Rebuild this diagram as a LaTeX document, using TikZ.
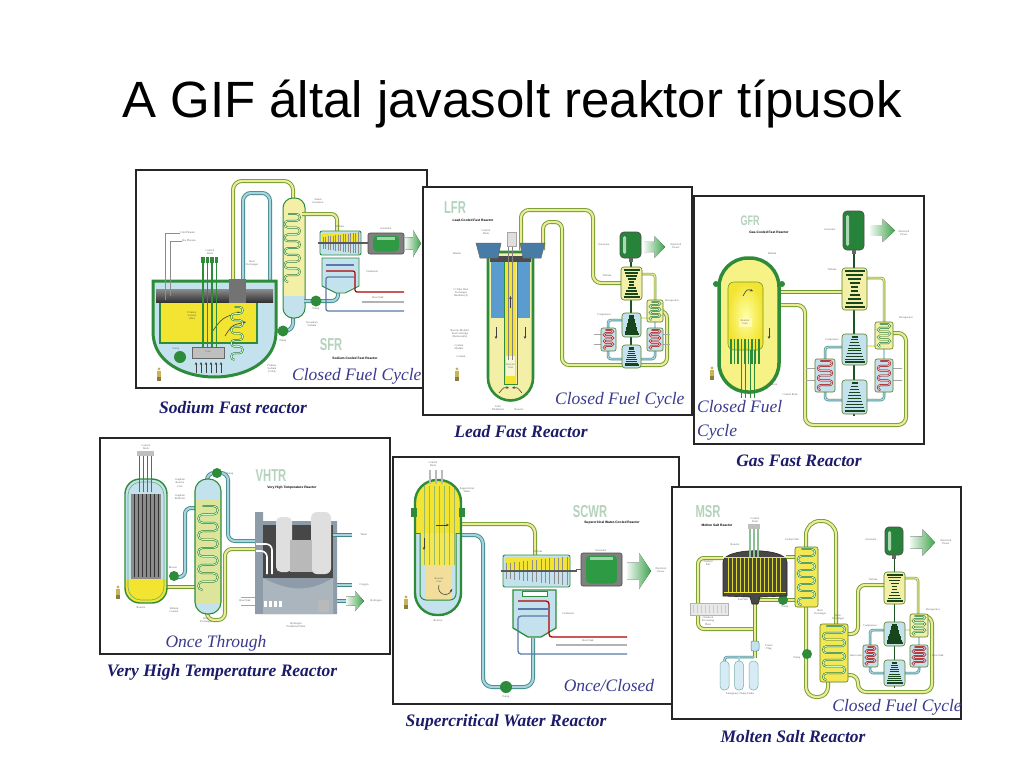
\documentclass[tikz,border=0pt]{standalone}
\usepackage{fontspec}
\setmainfont{Liberation Serif}
\newfontfamily\titlefont{Liberation Sans}
\usetikzlibrary{calc,arrows.meta}
\definecolor{dkg}{HTML}{2E8B3A}
\definecolor{olive}{HTML}{6E9A2A}
\definecolor{pyel}{HTML}{EDEB9A}
\definecolor{yel}{HTML}{F2E431}
\definecolor{pale}{HTML}{F4EFA6}
\definecolor{lblue}{HTML}{C4E2EE}
\definecolor{teal}{HTML}{3F8A86}
\definecolor{tblue}{HTML}{A9D3E0}
\definecolor{capc}{HTML}{1C1C6B}
\definecolor{cycc}{HTML}{3A3A8E}
\definecolor{logoc}{HTML}{B4D3BC}
\definecolor{gen}{HTML}{2F9A44}
\definecolor{arrowg}{HTML}{3FA34D}
\definecolor{pinkc}{HTML}{D4707A}
\definecolor{skin}{HTML}{C9B35A}
\definecolor{hdrb}{HTML}{5A9BD0}
\definecolor{steelb}{HTML}{5A78A8}
\definecolor{plantg}{HTML}{8D9CA8}
\definecolor{ihxg}{HTML}{DDE59A}
\definecolor{beige}{HTML}{F2DE9A}
\tikzset{
 panel/.style={draw=black!85, line width=1.1pt, fill=white},
 ypipe/.style={draw=olive, double=pyel, double distance=2.2pt, line width=0.9pt, rounded corners=6pt},
 bpipe/.style={draw=teal, double=tblue, double distance=2.2pt, line width=0.9pt, rounded corners=6pt},
 typipe/.style={draw=olive, double=pyel, double distance=1.3pt, line width=0.6pt, rounded corners=3pt},
 tbpipe/.style={draw=teal, double=tblue, double distance=1.3pt, line width=0.6pt, rounded corners=3pt},
 coilg/.style={draw=dkg!80!black, double=lblue!50!green!35, double distance=0.9pt, line width=0.5pt},
 coilr/.style={draw=red!60!black, double=pinkc!50, double distance=0.9pt, line width=0.5pt},
 caption/.style={font=\fontsize{17.5}{18}\selectfont\bfseries\itshape, text=capc, inner sep=0pt},
 cyclab/.style={font=\fontsize{17.5}{18}\selectfont\itshape, text=cycc, inner sep=0pt},
 lbl/.style={font=\fontsize{2.8}{3.1}\selectfont, text=black!60, inner sep=0pt, align=center},
 logo/.style={font=\titlefont\bfseries\fontsize{15}{15}\selectfont, text=logoc, inner sep=0pt},
 logosub/.style={font=\titlefont\bfseries\fontsize{3.3}{3.5}\selectfont, text=black, inner sep=0pt},
 flow/.style={-{Stealth[length=3pt,width=2.6pt]}, line width=.6pt, black!75},
}
\newcommand\serp[6]{\draw[#6] (#1,#2) \foreach \i in {1,...,#4}{ -- ++(#3,0) arc[start angle=-90,end angle=90,radius=#5] -- ++(-#3,0) arc[start angle=270,end angle=90,radius=#5]};}
\newcommand\person[2]{\fill[skin] (#1,#2-12) circle[radius=1.6];
 \fill[skin] (#1-2,#2-10) rectangle (#1+2,#2-4);
 \fill[skin!70!black] (#1-1.8,#2-4) rectangle (#1-0.4,#2);
 \fill[skin!70!black] (#1+0.4,#2-4) rectangle (#1+1.8,#2);}
\newcommand\pumpc[3]{\fill[dkg] (#1,#2) circle[radius=#3];}
\newcommand\genH[4]{\filldraw[fill=black!50, draw=black!70, line width=.6pt, rounded corners=2pt] (#1,#2) rectangle (#3,#4);
 \fill[gen, rounded corners=4pt] (#1+5,#2+2.5) rectangle (#3-5,#4-2.5);
 \fill[gen!45!white] (#1+9,#2+4) rectangle (#3-9,#2+6.5);
 \draw[black!60, line width=1.2pt] (#1-5,{(#2+#4)/2}) -- (#1,{(#2+#4)/2});}
\newcommand\genV[4]{\filldraw[fill=gen!85!black, draw=black!70, line width=.7pt, rounded corners=4pt] (#1,#2) rectangle (#3,#4);
 \fill[gen!40!white, rounded corners=1.5pt] (#1+3,#2+4) rectangle (#1+6,#4-4);
 \fill[black!60] ({(#1+#3)/2-2},#4) rectangle ({(#1+#3)/2+2},#4+4);}
\newcommand\garrow[4]{\pgfmathsetmacro\gxa{#1+0.5*(#3-#1)}\pgfmathsetmacro\gym{0.5*(#2+#4)}\pgfmathsetmacro\gyq{#2+0.27*(#4-#2)}\pgfmathsetmacro\gyr{#4-0.27*(#4-#2)}
 \fill[left color=arrowg!8, right color=arrowg] (#1,\gyq) -- (\gxa,\gyq) -- (\gxa,#2) -- (#3,\gym) -- (\gxa,#4) -- (\gxa,\gyr) -- (#1,\gyr) -- cycle;}
\newcommand\turbo[6]{\filldraw[fill=#5, draw=olive!80!black, line width=.6pt, rounded corners=3pt] (#1,#2) rectangle (#3,#4);
 \pgfmathsetmacro\tcx{0.5*(#1+#3)}\pgfmathsetmacro\thw{0.5*(#3-#1)-2.5}
 \foreach \k in {0,...,9}{\pgfmathsetmacro\ty{#2+3+\k*(#4-#2-6)/9}
  \pgfmathsetmacro\tf{ifthenelse(#6==0, 0.25+0.75*abs(\k-4.5)/4.5, 0.3+0.7*\k/9)}
  \draw[dkg!50!black, line width=1.1pt] (\tcx-\thw*\tf,\ty) -- (\tcx+\thw*\tf,\ty);}}
\newcommand\turbH[4]{\filldraw[fill=lblue, draw=dkg, line width=.9pt, rounded corners=2pt] (#1,#2) rectangle (#3,#4);
 \fill[yel] (#1+1.5,#2+1.5) rectangle (#3-1.5,{#2+0.45*(#4-#2)});
 \foreach \k in {0,...,14}{\pgfmathsetmacro\bx{#1+3+\k*(#3-#1-6)/14}\pgfmathsetmacro\bh{0.25+0.2*\k/14}
  \draw[black!45, line width=.7pt] (\bx,{(#2+#4)/2-\bh*(#4-#2)}) -- (\bx,{(#2+#4)/2+\bh*(#4-#2)});}
 \draw[black!65, line width=1.2pt] (#1-2,{(#2+#4)/2}) -- (#3+7,{(#2+#4)/2});}
\newcommand\hxbox[7]{\filldraw[fill=#5, draw=olive!80!black, line width=.6pt, rounded corners=2pt] (#1,#2) rectangle (#3,#4);
 \pgfmathsetmacro\hr{(#4-#2-4)/(4*#7)}\pgfmathsetmacro\hxa{#1+3+\hr}\pgfmathsetmacro\hw{#3-#1-6-2*\hr}\pgfmathsetmacro\hyb{#2+2}
 \serp{\hxa}{\hyb}{\hw}{#7}{\hr}{#6}}
\begin{document}
\begin{tikzpicture}[x=1pt,y=-1pt]
\fill[white] (0,0) rectangle (1024,768);
\useasboundingbox (0,0) rectangle (1024,768);
\node[font=\titlefont\fontsize{51}{56}\selectfont, anchor=base] (title) at (512,117) {A GIF által javasolt reaktor típusok};

%================ SFR
\filldraw[panel, line width=2pt] (136,170) rectangle (427,388);
\draw[ypipe, rounded corners=9pt] (233,280) -- (233,181) -- (293,181) -- (293,199);
\draw[bpipe, rounded corners=8pt] (243,280) -- (243,193) -- (270,193) -- (270,331) -- (293,331) -- (293,317);
\pumpc{283}{331}{5.5}
\filldraw[fill=lblue, draw=dkg, line width=3pt] (153,281) -- (153,332) .. controls (153,392) and (276,392) .. (276,332) -- (276,281) -- cycle;
\fill[yel] (160,302) rectangle (257,343);
\draw[dkg, line width=1.2pt] (160,302) -- (160,343) -- (257,343) -- (257,302);
\shade[top color=black!45, bottom color=black!80] (156,289) rectangle (273,302);
\draw[flow] (212,332) .. controls (222,318) .. (240,312);
\draw[flow] (225,336) .. controls (232,325) .. (246,322);
\filldraw[fill=black!25, draw=black!60, line width=.5pt] (192,347) rectangle (224,358);
\foreach \x in {196,201,...,221} \draw[flow] (\x,373) -- (\x,362);
\foreach \x in {203,207.5,212,216.5}{\draw[dkg, line width=1.3pt] (\x,262) -- (\x,347); \fill[dkg] (\x-1.6,257) rectangle (\x+1.6,263);}
\pumpc{180}{357}{6}
\fill[black!55] (229,279) rectangle (246,303);
\serp{234.5}{307}{5}{4}{3.3}{coilg}
\begin{scope}\clip[rounded corners=10pt] (283,198) rectangle (305,318);
\fill[pale] (283,198) rectangle (305,296); \fill[lblue] (283,296) rectangle (305,318);\end{scope}
\draw[dkg, line width=1pt, rounded corners=10pt] (283,198) rectangle (305,318);
\serp{288}{214}{8.5}{5}{3.4}{coilg}
\draw[ypipe] (302,214) -- (337,214) -- (337,231);
\draw[bpipe] (304,301) -- (338,301) -- (338,292);
\pumpc{316}{301}{5.5}
\turbH{320}{231}{361}{255}
\genH{368}{233}{404}{254}
\garrow{405}{230}{421}{257}
\filldraw[fill=lblue, draw=dkg, line width=.9pt] (322,258) -- (359,258) -- (359,286) -- (345,293) -- (336,293) -- (322,286) -- cycle;
\draw[steelb, line width=1.2pt] (326,265) -- (354,265);
\draw[red!70!black, line width=1.2pt, rounded corners=2pt] (326,271) -- (355,271) -- (355,292) -- (404,292);
\draw[steelb, line width=1.2pt, rounded corners=2pt] (354,277) -- (326,277) -- (326,311) -- (404,311);
\draw[gray!60, line width=1.2pt] (362,302) -- (404,302);
\node[logo] (sfrlogo) at (331,345) {\scalebox{.75}[1.15]{SFR}};
\node[logosub] (sfrsub) at (355,358) {Sodium-Cooled Fast Reactor};
\person{159}{381}
\node[cyclab, anchor=base west] (sfrcyc) at (292,380) {Closed Fuel Cycle};
\draw[black!45, line width=.3pt] (180,233) -- (165,233) -- (165,300);
\draw[black!45, line width=.3pt] (182,241) -- (170,241) -- (170,296);
\node[lbl, anchor=west] (s1) at (180,233) {Cold Plenum};
\node[lbl, anchor=west] (s2) at (182,241) {Hot Plenum};
\node[lbl] (s3) at (210,252) {Control\\Rods};
\node[lbl] (s4) at (252,263) {Heat\\Exchanger};
\node[lbl] (s5) at (318,201) {Steam\\Generator};
\node[lbl] (s6) at (340,227) {Turbine};
\node[lbl] (s7) at (386,229) {Generator};
\node[lbl] (s8) at (372,272) {Condenser};
\node[lbl] (s9) at (378,298) {Heat Sink};
\node[lbl] (s10) at (283,341) {Pump};
\node[lbl] (s11) at (316,309) {Pump};
\node[lbl] (s12) at (312,324) {Secondary\\Sodium};
\node[lbl] (s13) at (192,316) {Primary\\Sodium\\(Hot)};
\node[lbl] (s14) at (272,369) {Primary\\Sodium\\(Cold)};
\node[lbl] (s15) at (208,352) {Core};
\node[lbl] (s16) at (176,349) {Pump};

%================ LFR
\filldraw[panel] (423,187) rectangle (692,415);
\draw[ypipe, rounded corners=8pt] (521,250) -- (521,210) -- (593,210) -- (593,283) -- (622,283);
\draw[ypipe, rounded corners=7pt] (543,250) -- (543,222) -- (562,222) -- (562,365) -- (667,365) -- (667,311) -- (663,311);
\filldraw[fill=pale, draw=dkg, line width=2.6pt] (488,252) -- (488,378) arc[start angle=180,end angle=0,radius=22.5] -- (533,252) -- cycle;
\fill[hdrb] (491,262) rectangle (504,318);
\fill[hdrb] (517,262) rectangle (530,318);
\fill[yel] (505,262) rectangle (516,384);
\draw[dkg, line width=1pt] (504,262) -- (504,385) (517,262) -- (517,385);
\fill[black!70] (490,256) rectangle (531,262);
\fill[pale!50!white] (506,356) rectangle (515,376);
\draw[black!50, line width=.6pt] (508.5,240) -- (508.5,360) (512.5,240) -- (512.5,360);
\filldraw[fill=gray!25, draw=gray!70, line width=.4pt] (507,232) rectangle (516,246);
\filldraw[fill=hdrb!80!black, draw=black!60, line width=.5pt] (476,243) -- (501,243) -- (498,258) -- (480,258) -- cycle;
\filldraw[fill=hdrb!80!black, draw=black!60, line width=.5pt] (520,243) -- (545,243) -- (541,258) -- (523,258) -- cycle;
\draw[dkg, line width=1pt] (504,384) -- (517,384);
\draw[flow] (510.5,308) -- (510.5,296);
\draw[flow] (496,327) -- (496,339);
\draw[flow] (525,327) -- (525,339);
\draw[flow] (499,393) .. controls (504,387) .. (509,388);
\draw[flow] (522,393) .. controls (517,387) .. (512,388);
\draw[typipe] (642,274) -- (655,274) -- (655,300);
\draw[tbpipe] (655,322) -- (655,328);
\draw[tbpipe] (655,351) -- (655,359) -- (641,359);
\draw[tbpipe] (622,359) -- (608,359) -- (608,351);
\draw[tbpipe] (608,328) -- (608,320) -- (622,320);
\draw[typipe] (641,318) -- (647,318);
\draw[gray!70, line width=.5pt] (594,334) -- (601,334) (594,344) -- (601,344) (663,334) -- (670,334) (663,344) -- (670,344);
\draw[dkg!60!black, line width=1.4pt] (631,262) -- (631,368);
\genV{620}{232}{641}{258}
\garrow{644}{236}{665}{258}
\turbo{621}{267}{642}{300}{pale}{0}
\hxbox{647}{300}{663}{322}{pale}{coilg}{3}
\turbo{622}{313}{641}{337}{lblue}{1}
\turbo{622}{345}{641}{368}{lblue}{1}
\hxbox{601}{328}{616}{351}{lblue}{coilr}{3}
\hxbox{647}{328}{663}{351}{lblue}{coilr}{3}
\node[logo] (lfrlogo) at (455,208) {\scalebox{.75}[1.15]{LFR}};
\node[logosub] (lfrsub) at (473,220) {Lead-Cooled Fast Reactor};
\person{457}{381}
\node[cyclab, anchor=base west] (lfrcyc) at (555,404) {Closed Fuel Cycle};
\node[lbl] (l1) at (457,254) {Header};
\node[lbl] (l2) at (486,232) {Control\\Rods};
\node[lbl] (l3) at (461,293) {U-Tube Heat\\Exchanger\\Modules (4)};
\node[lbl] (l4) at (460,334) {Reactor Module/\\Fuel Cartridge\\(Removable)};
\node[lbl] (l5) at (459,347) {Coolant\\Module};
\node[lbl] (l6) at (461,357) {Coolant};
\node[lbl] (l7) at (498,408) {Inlet\\Distributor};
\node[lbl] (l8) at (604,245) {Generator};
\node[lbl] (l9) at (676,246) {Electrical\\Power};
\node[lbl] (l10) at (607,276) {Turbine};
\node[lbl] (l11) at (672,301) {Recuperator};
\node[lbl] (l12) at (604,315) {Compressor};
\node[lbl] (l13) at (510.5,366) {Reactor\\Core};
\node[lbl] (l14) at (519,410) {Reactor};

%================ GFR
\filldraw[panel] (694,196) rectangle (924,444);
\draw[ypipe] (770,292) -- (842,292);
\draw[ypipe, rounded corners=8pt] (770,305) -- (805,305) -- (805,425) -- (906,425) -- (906,333) -- (893,333);
\draw[typipe] (867,278) -- (884,278) -- (884,322);
\draw[typipe] (867,346) -- (875,346);
\draw[tbpipe] (842,347) -- (825,347) -- (825,359);
\draw[tbpipe] (825,392) -- (825,400) -- (842,400);
\draw[tbpipe] (867,400) -- (884,400) -- (884,392);
\draw[tbpipe] (884,359) -- (884,349);
\draw[gray!70, line width=.5pt] (806,368) -- (815,368) (806,380) -- (815,380) (893,368) -- (902,368) (893,380) -- (902,380);
\filldraw[fill=pale!80!yellow, draw=dkg, line width=3.5pt, rounded corners=29pt] (719,258) rectangle (779,392);
\fill[dkg] (716,284) circle[radius=3]; \fill[dkg] (782,284) circle[radius=3];
\shade[inner color=yellow!35!white, outer color=yel, rounded corners=6pt] (728,282) rectangle (763,350);
\draw[olive, line width=.6pt, rounded corners=6pt] (728,282) rectangle (763,350);
\fill[white!70!yellow] (739,318) rectangle (752,327);
\foreach \x in {731,734.5,...,760} \draw[dkg, line width=1.1pt] (\x,339) -- (\x,364);
\foreach \x in {741,745.5,750,754.5} \draw[dkg, line width=1pt] (\x,350) -- (\x,398);
\draw[flow] (743,296) .. controls (747,289) .. (753,291);
\draw[flow] (769,328) -- (769,339);
\draw[dkg!60!black, line width=1.4pt] (854,254) -- (854,416);
\genV{843}{211}{864}{250}
\garrow{870}{219}{895}{242}
\turbo{842}{268}{867}{310}{pale}{0}
\hxbox{875}{322}{893}{349}{pale}{coilg}{3}
\turbo{842}{334}{867}{365}{lblue}{1}
\turbo{842}{380}{867}{414}{lblue}{1}
\hxbox{815}{359}{835}{392}{lblue}{coilr}{3}
\hxbox{875}{359}{893}{392}{lblue}{coilr}{3}
\node[logo, font=\titlefont\bfseries\fontsize{12}{12}\selectfont] (gfrlogo) at (750,221) {\scalebox{.75}[1.15]{GFR}};
\node[logosub] (gfrsub) at (769,232) {Gas-Cooled Fast Reactor};
\person{712}{380}
\node[cyclab, anchor=base west] (gfrcyc1) at (697,412) {Closed Fuel};
\node[cyclab, anchor=base west] (gfrcyc2) at (697,436) {Cycle};
\node[lbl] (g1) at (772,254) {Helium};
\node[lbl] (g2) at (830,230) {Generator};
\node[lbl] (g3) at (904,233) {Electrical\\Power};
\node[lbl] (g4) at (832,270) {Turbine};
\node[lbl] (g5) at (745,322) {Reactor\\Core};
\node[lbl] (g6) at (790,395) {Control Rods};
\node[lbl] (g7) at (773,385) {Reactor};
\node[lbl] (g8) at (832,340) {Compressor};
\node[lbl] (g9) at (906,318) {Recuperator};

%================ VHTR
\filldraw[panel] (100,438) rectangle (390,654);
\draw[bpipe, rounded corners=7pt] (207,481) -- (207,473) -- (228,473) -- (228,541) -- (256,541);
\draw[ypipe, rounded corners=7pt] (207,612) -- (207,620) -- (225,620) -- (225,549) -- (256,549);
\draw[ypipe] (166,587) -- (196,587);
\draw[bpipe, rounded corners=6pt] (170,577) -- (185,577) -- (185,508) -- (196,508);
\pumpc{174}{576}{5}
\begin{scope}\clip[rounded corners=15pt] (125,479) rectangle (167,603);
\fill[lblue] (125,479) rectangle (167,603); \fill[yel] (125,579) rectangle (167,603);
\fill[black!45] (131,494) rectangle (161,579);
\foreach \x in {134.5,138.5,...,158.5} \draw[black!80, line width=.9pt] (\x,494) -- (\x,577);
\end{scope}
\draw[dkg, line width=1.4pt, rounded corners=15pt] (125,479) rectangle (167,603);
\draw[dkg!70, line width=.6pt, rounded corners=13pt] (128,482) rectangle (164,600);
\foreach \x in {139.5,143.5,147.5,151.5} \draw[dkg, line width=1.2pt] (\x,454) -- (\x,492);
\fill[gray!50] (137,451) rectangle (154,456);
\begin{scope}\clip[rounded corners=12pt] (195,479) rectangle (221,614);
\fill[lblue] (195,479) rectangle (221,614); \fill[ihxg] (195,500) rectangle (221,603);\end{scope}
\draw[dkg, line width=1.1pt, rounded corners=12pt] (195,479) rectangle (221,614);
\serp{202.5}{506}{11}{5}{4.2}{coilg}
\pumpc{217}{473}{5}
\fill[plantg] (255,512) -- (263,512) -- (263,521) -- (337,521) -- (337,614) -- (255,614) -- cycle;
\fill[black!72] (263,525) rectangle (333,578);
\fill[gray!25, rounded corners=5pt] (276,517) rectangle (292,572);
\fill[gray!25, rounded corners=6pt] (311,512) rectangle (331,574);
\fill[gray!55] (290,540) rectangle (312,572);
\draw[white, line width=1.6pt, rounded corners=6pt] (256,544) -- (272,544) -- (272,574);
\draw[white, line width=1.6pt, rounded corners=6pt] (256,551) -- (267,551) -- (267,574);
\fill[plantg!75!white] (263,578) .. controls (290,592) and (310,592) .. (333,578) -- (333,614) -- (263,614) -- cycle;
\foreach \x in {264,269,274,279} \fill[white] (\x,601) rectangle (\x+2.5,607);
\fill[gray!55] (318,600) rectangle (329,612);
\draw[bpipe] (333,535) -- (352,535);
\draw[bpipe] (337,585) -- (352,585);
\draw[bpipe] (337,601) -- (350,601);
\garrow{346}{591}{364}{611}
\draw[gray!70, line width=.6pt] (241,597) -- (255,597) (241,605) -- (255,605);
\node[logo] (vhtrlogo) at (271,476) {\scalebox{.75}[1.15]{VHTR}};
\node[logosub] (vhtrsub) at (292,488) {Very High Temperature Reactor};
\person{118}{599}
\node[cyclab, anchor=base] (vhtrcyc) at (216,647) {Once Through};
\node[lbl] (v1) at (146,447) {Control\\Rods};
\node[lbl] (v2) at (180,483) {Graphite\\Reactor\\Core};
\node[lbl] (v3) at (180,497) {Graphite\\Reflector};
\node[lbl] (v4) at (141,608) {Reactor};
\node[lbl] (v5) at (174,610) {Helium\\Coolant};
\node[lbl] (v6) at (173,568) {Blower};
\node[lbl] (v7) at (206,620) {Heat\\Exchanger};
\node[lbl] (v8) at (230,474) {Pump};
\node[lbl] (v9) at (364,535) {Water};
\node[lbl] (v10) at (364,585) {Oxygen};
\node[lbl] (v11) at (376,601) {Hydrogen};
\node[lbl] (v12) at (296,625) {Hydrogen\\Production Plant};
\node[lbl] (v13) at (245,601) {Heat Sink};

%================ SCWR
\filldraw[panel] (393,457) rectangle (679,704);
\draw[ypipe, rounded corners=9pt] (458,524) -- (535,524) -- (535,557);
\draw[bpipe, rounded corners=9pt] (459,535) -- (483,535) -- (483,687) -- (533,687) -- (533,638);
\pumpc{506}{687}{6}
\begin{scope}\clip[rounded corners=22pt] (415,480) rectangle (461,615);
\fill[lblue] (415,480) rectangle (461,615); \fill[yel] (415,480) rectangle (461,533);
\fill[yel!70!pale] (421,533) rectangle (456,565); \fill[beige] (426,565) rectangle (452,599);
\end{scope}
\foreach \x in {424,429,...,454} \draw[olive!70, line width=.5pt] (\x,486) -- (\x,565);
\draw[dkg, line width=2.4pt, rounded corners=22pt] (415,480) rectangle (461,615);
\draw[dkg, line width=1pt, rounded corners=6pt] (420,533) -- (420,600) -- (456,600) -- (456,533);
\draw[dkg, line width=1pt] (416,533) -- (420,533) (456,533) -- (460,533);
\fill[dkg] (411,508) rectangle (417,517); \fill[dkg] (459,508) rectangle (465,517);
\foreach \x in {430,436,442} \draw[gray!55, line width=1.6pt] (\x,470) -- (\x,484);
\draw[flow] (436,525) -- (449,525);
\draw[flow] (424,538) -- (424,550);
\draw[flow] (439,585) .. controls (436,594) and (448,598) .. (452,589);
\turbH{503}{555}{570}{587}
\genH{581}{553}{622}{586}
\garrow{627}{553}{651}{589}
\filldraw[fill=lblue, draw=dkg, line width=1.3pt] (513,590) -- (556,590) -- (556,628) -- (541,637) -- (528,637) -- (513,628) -- cycle;
\filldraw[fill=white, draw=dkg, line width=.7pt] (522,591) rectangle (547,596);
\draw[red!70!black, line width=1.3pt, rounded corners=3pt] (518,601) -- (549,601) -- (549,637) -- (627,637);
\draw[steelb, line width=1.3pt] (518,609) -- (549,609);
\draw[steelb, line width=1.3pt, rounded corners=3pt] (549,616) -- (518,616) -- (518,654) -- (627,654);
\draw[gray!60, line width=1.3pt] (556,645) -- (627,645);
\node[logo] (scwrlogo) at (590,512) {\scalebox{.75}[1.15]{SCWR}};
\node[logosub] (scwrsub) at (612,523) {Supercritical Water-Cooled Reactor};
\person{406}{609}
\node[cyclab, anchor=base] (scwrcyc) at (609,691) {Once/Closed};
\node[lbl] (w1) at (433,464) {Control\\Rods};
\node[lbl] (w2) at (467,490) {Supercritical\\Water};
\node[lbl] (w3) at (439,580) {Reactor\\Core};
\node[lbl] (w4) at (438,621) {Reactor};
\node[lbl] (w5) at (538,552) {Turbine};
\node[lbl] (w6) at (601,551) {Generator};
\node[lbl] (w7) at (661,570) {Electrical\\Power};
\node[lbl] (w8) at (568,614) {Condenser};
\node[lbl] (w9) at (588,641) {Heat Sink};
\node[lbl] (w10) at (506,697) {Pump};

%================ MSR
\filldraw[panel] (672,487) rectangle (961,719);
\draw[ypipe, rounded corners=6pt] (723,558) -- (698,558) -- (698,629) -- (754,629);
\filldraw[fill=gray!18, draw=gray!60, line width=.4pt] (690,603) rectangle (728,615);
\foreach \x in {693,697,...,725} \draw[gray!40, line width=.3pt] (\x,605) -- (\x,613);
\draw[ypipe] (755,604) -- (755,658);
\filldraw[fill=lblue, draw=teal, line width=.5pt, rounded corners=2pt] (751,641) rectangle (759,651);
\draw[tbpipe] (724.5,661) -- (724.5,657) -- (754,657);
\draw[tbpipe] (739,657) -- (739,661);
\foreach \x in {720,734.5,749} \filldraw[fill=lblue!70!white, draw=teal!70, line width=.5pt, rounded corners=4pt] (\x,661) rectangle (\x+9,690);
\draw[ypipe] (786,557) -- (795,557);
\draw[ypipe] (757,600) -- (795,600);
\draw[ypipe, rounded corners=14pt] (806,548) -- (806,521) -- (836,521) -- (836,625);
\draw[ypipe, rounded corners=10pt] (806,606) -- (806,697) -- (828,697) -- (828,682);
\draw[ypipe, rounded corners=7pt] (848,634) -- (858,634) -- (858,585) -- (884,585);
\draw[ypipe, rounded corners=8pt] (848,675) -- (858,675) -- (858,692) -- (932,692) -- (932,616) -- (928,616);
\draw[typipe] (905,578) -- (918,578) -- (918,614);
\draw[tbpipe] (884,630) -- (870,630) -- (870,645);
\draw[tbpipe] (870,667) -- (870,673) -- (884,673);
\draw[tbpipe] (905,673) -- (919,673) -- (919,667);
\draw[tbpipe] (919,645) -- (919,637);
\draw[typipe] (905,630) -- (910,630);
\pumpc{783}{600}{5}
\pumpc{807}{654}{5}
\hxbox{795}{547}{818}{607}{yel!70!pale}{coilg}{4}
\hxbox{820}{624}{848}{682}{yel!70!pale}{coilg}{4}
\filldraw[fill=black!72, draw=black!85, line width=.6pt] (723,596) -- (723,562) .. controls (723,547) and (787,547) .. (787,562) -- (787,596) -- (760,597) -- (758,604) -- (752,604) -- (750,597) -- cycle;
\foreach \x in {728,732,...,782} \draw[yel!85!olive, line width=.7pt] (\x,558) -- (\x,592);
\draw[yel, line width=.9pt] (724,557) -- (786,557) (724,592) -- (786,592);
\foreach \x in {750,754,758} \draw[dkg!55!white, line width=1.3pt] (\x,527) -- (\x,557);
\fill[gray!50] (748,524) rectangle (760,529);
\draw[dkg!60!black, line width=1.4pt] (894.5,558) -- (894.5,688);
\genV{885}{527}{903}{555}
\garrow{910}{529}{935}{556}
\turbo{884}{572}{905}{604}{pale}{0}
\hxbox{910}{614}{928}{637}{pale}{coilg}{3}
\turbo{884}{622}{905}{646}{lblue}{1}
\turbo{884}{660}{905}{686}{lblue}{1}
\hxbox{863}{645}{878}{667}{lblue}{coilr}{3}
\hxbox{910}{645}{928}{667}{lblue}{coilr}{3}
\node[logo] (msrlogo) at (708,512) {\scalebox{.75}[1.15]{MSR}};
\node[logosub] (msrsub) at (717,525) {Molten Salt Reactor};
\node[cyclab, anchor=base] (msrcyc) at (897,711) {Closed Fuel Cycle};
\node[lbl] (m1) at (755,520) {Control\\Rods};
\node[lbl] (m2) at (735,545) {Reactor};
\node[lbl] (m3) at (708,563) {Purified\\Salt};
\node[lbl] (m4) at (792,540) {Coolant Salt};
\node[lbl] (m5) at (743,600) {Fuel Salt};
\node[lbl] (m6) at (785,607) {Pump};
\node[lbl] (m7) at (820,612) {Heat\\Exchanger};
\node[lbl] (m8) at (838,617) {Heat\\Exchanger};
\node[lbl] (m9) at (797,658) {Pump};
\node[lbl] (m10) at (708,621) {Chemical\\Processing\\Plant};
\node[lbl] (m11) at (769,647) {Freeze\\Plug};
\node[lbl] (m12) at (740,694) {Emergency Dump Tanks};
\node[lbl] (m13) at (871,540) {Generator};
\node[lbl] (m14) at (946,542) {Electrical\\Power};
\node[lbl] (m15) at (873,580) {Turbine};
\node[lbl] (m16) at (933,610) {Recuperator};
\node[lbl] (m17) at (870,626) {Compressor};
\node[lbl] (m18) at (856,656) {Intercooler};
\node[lbl] (m19) at (938,656) {Heat Sink};

%================ captions
\node[caption] (c1) at (233,408) {Sodium Fast reactor};
\node[caption] (c2) at (521,432) {Lead Fast Reactor};
\node[caption] (c3) at (799,461) {Gas Fast Reactor};
\node[caption] (c4) at (222,672) {Very High Temperature Reactor};
\node[caption] (c5) at (506,722) {Supercritical Water Reactor};
\node[caption] (c6) at (793,737) {Molten Salt Reactor};
\end{tikzpicture}
\end{document}
